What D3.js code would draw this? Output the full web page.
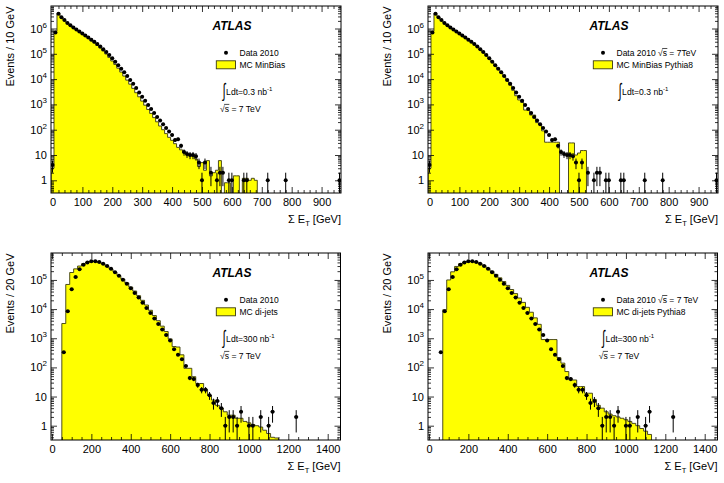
<!DOCTYPE html>
<html><head><meta charset="utf-8">
<script src="https://cdn.jsdelivr.net/npm/d3@7"></script>
<style>body{margin:0;background:#fff}svg text{font-family:"Liberation Sans",Arial,Helvetica,sans-serif}</style>
</head><body><svg id="c" width="724" height="483"></svg>
<script>
// ---------------- DATA ----------------
// Minimum bias: 10 GeV bins, centres 0,10,20,... GeV
const minBiasBinWidth = 10;
const dataMinBias = [4,700000,3800000,2800000,2150000,1650000,1350000,1100000,910000,760000,
  630000,525000,440000,360000,300000,245000,195000,150000,117000,89000,
  66000,49000,35500,25700,18600,13200,9300,6500,4400,2950,
  2000,1400,950,660,460,320,230,166,117,85,
  62,39,42,23,13,11,10,10,9,5,
  1,5,0,2,0,1,2,2,0,1,
  1,0,0,0,1,1,0,0,0,0,
  0,0,1,0,0,0,0,0,1,0,
  0,0,0,0,0,0,0,0,0,0,
  0,0,0,0,0,0,1];
const mcMinBiasPythia6 = [3,800000,4000000,2800000,2100000,1620000,1290000,1050000,870000,720000,
  600000,490000,410000,330000,270000,214000,170000,129000,98000,72000,
  52000,38000,27000,19000,13200,9100,6300,4300,2900,2000,
  1350,930,630,440,300,205,140,100,70,50,
  38,28,20,16,12.5,11,10,9,7,3.5,
  5,2.5,6,1.5,2,2.5,6,0,0.8,0.8,
  0,1.5,1.5,0,1.2,1.2,1,1.2,1.0,0];
const mcMinBiasPythia8 = [3,800000,4000000,2850000,2150000,1650000,1330000,1080000,900000,750000,
  620000,515000,430000,355000,295000,240000,190000,146000,113000,86000,
  64000,47000,34000,24500,17500,12500,8500,5800,3600,2200,
  1500,1200,600,600,380,380,190,160,90,32,
  32,32,32,32,0,0,0,30,30,10,
  12,15,15,0];
// Di-jets: 20 GeV bins, centres 0,20,40,... GeV
const dijetBinWidth = 20;
const dataDijets = [0,0,0,330,8500,48000,125000,235000,330000,400000,
  440000,440000,410000,360000,300000,240000,185000,140000,102000,74000,
  52000,36000,25000,16600,11000,7400,4800,3100,2000,1290,
  830,420,270,190,112,43,40,25,17,17,
  11,6,7,4,1,2,2,1,3,0,
  1,1,0,2,0,1,3,0,0,0,
  0,0,2];
const mcDijetsPythia6 = [0,0,0,3200,70000,180000,240000,300000,360000,410000,
  430000,430000,400000,350000,290000,235000,186000,141000,107000,79000,
  57000,41700,28800,20000,13800,9100,6000,4000,2600,1700,
  950,520,500,270,93,93,48,28,28,17,
  11,7.6,5,4,3,2.3,2.3,1.8,1.8,1.4,
  1.25,1.1,1.0,0.9,0.7,0.54,0.4,0.38,0];
const mcDijetsPythia8 = [0,0,0,0,9500,100000,190000,290000,360000,410000,
  430000,430000,410000,360000,310000,250000,200000,155000,118000,88000,
  65000,47000,34000,24000,17000,11500,7800,5000,3000,900,
  900,900,900,215,140,72,37,37,22,22,
  13,13,8,5,4,3,2.5,2.2,2.0,1.8,
  1.6,1.4,1.2,1.0,0.8,0.65,0.5,0];
const xTicksMinBias = [0,100,200,300,400,500,600,700,800,900];
const xTicksDijets = [0,200,400,600,800,1000,1200,1400];
const yTicksMinBias = [1,10,1e2,1e3,1e4,1e5,1e6];
const yTicksDijets = [1,10,1e2,1e3,1e4,1e5];
const yTitleMinBias = "Events / 10 GeV";
const yTitleDijets = "Events / 20 GeV";
const legendData = ["Data 2010", "Data 2010 \u221As = 7TeV", "Data 2010", "Data 2010 \u221As = 7 TeV"];
const legendMC = ["MC MinBias", "MC MinBias Pythia8", "MC di-jets", "MC di-jets Pythia8"];
const lumiText = ["Ldt=0.3 nb", "Ldt=0.3 nb", "Ldt=300 nb", "Ldt=300 nb"];
const sqrtText = "\u221As = 7 TeV";

// ---------------- DRAW ----------------
const svg = d3.select("#c");
const panels = [
  {left:51, top:6, width:290, height:187, xDomain:[-5,965], yDomain:[0.315,7.75e6], bw:minBiasBinWidth,
   data:dataMinBias, mc:mcMinBiasPythia6, xTicks:xTicksMinBias, xMinorStep:20, yTicks:yTicksMinBias, yTitle:yTitleMinBias,
   leg:0, intX:171.5, sqrtX:169, showSqrt:true},
  {left:428, top:6, width:290, height:187, xDomain:[-5,965], yDomain:[0.315,7.75e6], bw:minBiasBinWidth,
   data:dataMinBias, mc:mcMinBiasPythia8, xTicks:xTicksMinBias, xMinorStep:20, yTicks:yTicksMinBias, yTitle:yTitleMinBias,
   leg:1, intX:190.5, sqrtX:0, showSqrt:false},
  {left:51, top:253, width:289.5, height:187, xDomain:[-5,1465], yDomain:[0.323,8.4e5], bw:dijetBinWidth,
   data:dataDijets, mc:mcDijetsPythia6, xTicks:xTicksDijets, xMinorStep:50, yTicks:yTicksDijets, yTitle:yTitleDijets,
   leg:2, intX:171.5, sqrtX:169, showSqrt:true},
  {left:428, top:253, width:289.5, height:187, xDomain:[-5,1465], yDomain:[0.323,8.4e5], bw:dijetBinWidth,
   data:dataDijets, mc:mcDijetsPythia8, xTicks:xTicksDijets, xMinorStep:50, yTicks:yTicksDijets, yTitle:yTitleDijets,
   leg:3, intX:174, sqrtX:170.7, showSqrt:true}
];

// draws an overline over the "s" that follows a radical sign in a text element
function sqrtBar(g, textSel, fontSize) {
  const node = textSel.node();
  const str = node.textContent;
  const idx = str.indexOf("\u221A");
  if (idx < 0) return;
  const x0 = +textSel.attr("x"), yb = +textSel.attr("y");
  const a = node.getSubStringLength(0, idx + 1);
  const b = node.getSubStringLength(0, idx + 2);
  g.append("line").attr("x1", x0 + a - 0.6).attr("x2", x0 + b + 0.3)
    .attr("y1", yb - fontSize * 0.86).attr("y2", yb - fontSize * 0.86)
    .attr("stroke", "#000").attr("stroke-width", 0.7);
}

panels.forEach((p, pi) => {
  const g = svg.append("g");
  const x = d3.scaleLinear().domain(p.xDomain).range([p.left, p.left + p.width]);
  const y = d3.scaleLog().domain(p.yDomain).range([p.top + p.height, p.top]).clamp(true);
  const bottom = p.top + p.height;
  const clipId = "clip" + pi;
  svg.append("clipPath").attr("id", clipId).append("rect")
    .attr("x", p.left).attr("y", p.top).attr("width", p.width).attr("height", p.height);
  const yv = v => v > 0 ? y(v) : bottom + 3;

  // MC histogram (step)
  const pts = [];
  pts.push([-p.bw/2, 0]);
  p.mc.forEach((v, i) => { const c = i * p.bw; pts.push([c - p.bw/2, v], [c + p.bw/2, v]); });
  pts.push([(p.mc.length - 0.5) * p.bw, 0]);
  const area = d3.area().x(d => x(d[0])).y0(bottom + 3).y1(d => yv(d[1]));
  const line = d3.line().x(d => x(d[0])).y(d => yv(d[1]));
  const hg = g.append("g").attr("clip-path", `url(#${clipId})`);
  hg.append("path").attr("d", area(pts)).attr("fill", "#ffff00");
  hg.append("path").attr("d", line(pts)).attr("fill", "none").attr("stroke", "#3a3a10").attr("stroke-width", 0.9);

  // data points with errors
  const dg = g.append("g").attr("clip-path", `url(#${clipId})`);
  p.data.forEach((n, i) => {
    if (n <= 0) return;
    const c = i * p.bw, e = Math.sqrt(n);
    const lo = n - e > 0 ? y(n - e) : bottom + 3;
    dg.append("line").attr("x1", x(c)).attr("x2", x(c)).attr("y1", lo).attr("y2", y(n + e))
      .attr("stroke", "#000").attr("stroke-width", 1);
    dg.append("line").attr("x1", x(c - p.bw/2)).attr("x2", x(c + p.bw/2)).attr("y1", y(n)).attr("y2", y(n))
      .attr("stroke", "#000").attr("stroke-width", 1);
    dg.append("circle").attr("cx", x(c)).attr("cy", y(n)).attr("r", 2).attr("fill", "#000");
  });

  // axes (ticks inside)
  const minorX = d3.range(p.xDomain[0] < 0 ? 0 : p.xDomain[0], p.xDomain[1], p.xMinorStep).filter(t => p.xTicks.indexOf(t) < 0);
  const axB = g.append("g").attr("transform", `translate(0,${bottom})`)
    .call(d3.axisBottom(x).tickValues(p.xTicks).tickSize(-6).tickSizeOuter(0).tickPadding(5).tickFormat(d3.format("d")));
  axB.selectAll("text").attr("font-size", 11).attr("fill", "#000").attr("font-family", "Liberation Sans, Arial, sans-serif");
  g.append("g").attr("transform", `translate(0,${bottom})`)
    .call(d3.axisBottom(x).tickValues(minorX).tickSize(-3).tickSizeOuter(0).tickFormat(""));
  g.append("g").attr("transform", `translate(0,${p.top})`)
    .call(d3.axisTop(x).tickValues(p.xTicks).tickSize(-6).tickSizeOuter(0).tickFormat(""));
  g.append("g").attr("transform", `translate(0,${p.top})`)
    .call(d3.axisTop(x).tickValues(minorX).tickSize(-3).tickSizeOuter(0).tickFormat(""));
  // log minor ticks
  const minorY = [];
  const lo = Math.floor(Math.log10(p.yDomain[0])), hi = Math.ceil(Math.log10(p.yDomain[1]));
  for (let d = lo; d <= hi; d++) for (let m = 2; m <= 9; m++) {
    const v = m * Math.pow(10, d);
    if (v >= p.yDomain[0] && v <= p.yDomain[1]) minorY.push(v);
  }
  g.append("g").attr("transform", `translate(${p.left},0)`)
    .call(d3.axisLeft(y).tickValues(p.yTicks).tickSize(-6).tickSizeOuter(0).tickFormat(""));
  g.append("g").attr("transform", `translate(${p.left},0)`)
    .call(d3.axisLeft(y).tickValues(minorY).tickSize(-3).tickSizeOuter(0).tickFormat(""));
  g.append("g").attr("transform", `translate(${p.left + p.width},0)`)
    .call(d3.axisRight(y).tickValues(p.yTicks).tickSize(-6).tickSizeOuter(0).tickFormat(""));
  g.append("g").attr("transform", `translate(${p.left + p.width},0)`)
    .call(d3.axisRight(y).tickValues(minorY).tickSize(-3).tickSizeOuter(0).tickFormat(""));
  g.selectAll(".domain").remove();
  g.selectAll(".tick line").attr("stroke", "#000").attr("stroke-width", 0.8);

  // y tick labels
  p.yTicks.forEach(v => {
    const e = Math.round(Math.log10(v));
    const t = g.append("text").attr("x", p.left - 4).attr("y", y(v) + 4).attr("text-anchor", "end")
      .attr("font-size", 11).attr("fill", "#000");
    if (e === 0) t.text("1");
    else if (e === 1) t.text("10");
    else { t.append("tspan").text("10"); t.append("tspan").attr("dy", -5).attr("font-size", 8).text(String(e)); }
  });

  // frame
  g.append("rect").attr("x", p.left).attr("y", p.top).attr("width", p.width).attr("height", p.height)
    .attr("fill", "none").attr("stroke", "#000").attr("stroke-width", 1);

  // axis titles
  const xt = g.append("text").attr("x", p.left + p.width).attr("y", bottom + 29.5).attr("text-anchor", "end")
    .attr("font-size", 11).attr("fill", "#000");
  xt.append("tspan").text("\u03A3 E");
  xt.append("tspan").attr("dy", 3).attr("font-size", 7.5).text("T");
  xt.append("tspan").attr("dy", -3).text(" [GeV]");
  g.append("text").attr("transform", `translate(${p.left - 37},${p.top + 0.5}) rotate(-90)`)
    .attr("text-anchor", "end").attr("font-size", 11).attr("fill", "#000").text(p.yTitle);

  // legend / labels
  const L = (dx) => p.left + dx, T = (dy) => p.top + dy;
  g.append("text").attr("x", L(181)).attr("y", T(23.5)).attr("text-anchor", "middle")
    .attr("font-size", 12).attr("font-weight", "bold").attr("font-style", "italic").attr("fill", "#000").text("ATLAS");
  g.append("circle").attr("cx", L(175)).attr("cy", T(46.8)).attr("r", 2).attr("fill", "#000");
  const ld = g.append("text").attr("x", L(188.5)).attr("y", T(49.8)).attr("font-size", 8.5).attr("fill", "#000").text(legendData[p.leg]);
  sqrtBar(g, ld, 8.5);
  g.append("rect").attr("x", L(165.3)).attr("y", T(54.8)).attr("width", 19.2).attr("height", 8)
    .attr("fill", "#ffff00").attr("stroke", "#3a3a10").attr("stroke-width", 0.9);
  g.append("text").attr("x", L(188.5)).attr("y", T(62)).attr("font-size", 8.5).attr("fill", "#000").text(legendMC[p.leg]);
  // integral sign, stretched vertically
  const ig = g.append("g").attr("transform", `translate(${L(p.intX)},${T(90.5)}) scale(1,1.75)`);
  const it = ig.append("text").attr("x", 0).attr("y", 0).attr("font-size", 11).attr("fill", "#000").text("\u222B");
  const iw = it.node().getComputedTextLength();
  const lt = g.append("text").attr("x", L(p.intX) + iw + 0.6).attr("y", T(89)).attr("font-size", 8.6).attr("fill", "#000");
  lt.append("tspan").text(lumiText[p.leg]);
  lt.append("tspan").attr("dy", -4).attr("font-size", 6).text("-1");
  if (p.showSqrt) {
    const st = g.append("text").attr("x", L(p.sqrtX)).attr("y", T(105.8)).attr("font-size", 8.6).attr("fill", "#000")
      .text(sqrtText);
    sqrtBar(g, st, 8.6);
  }
});
</script></body></html>
